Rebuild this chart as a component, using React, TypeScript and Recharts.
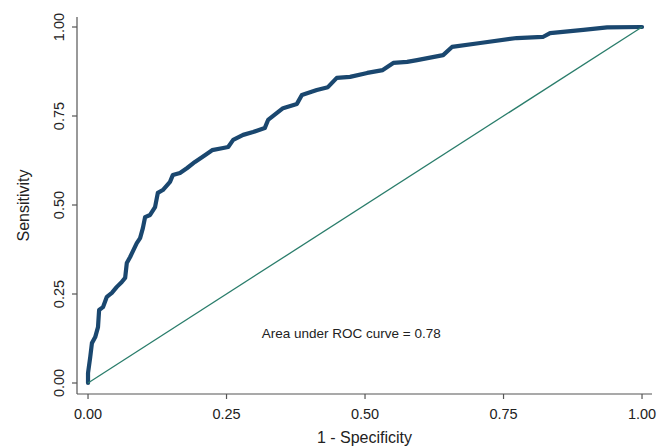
import React from "react";
import { LineChart, Line, XAxis, YAxis, ReferenceDot, Label } from "recharts";

const rocX = [0, 0, 0.004, 0.007, 0.013, 0.018, 0.02, 0.027, 0.034, 0.043, 0.052, 0.061, 0.067, 0.07, 0.076, 0.088, 0.094, 0.099, 0.103, 0.112, 0.121, 0.126, 0.135, 0.148, 0.153, 0.166, 0.179, 0.193, 0.211, 0.224, 0.244, 0.253, 0.262, 0.28, 0.298, 0.319, 0.325, 0.352, 0.377, 0.386, 0.413, 0.433, 0.449, 0.473, 0.504, 0.532, 0.551, 0.576, 0.594, 0.641, 0.657, 0.708, 0.774, 0.821, 0.834, 0.894, 0.937, 1.0];
const rocY = [0, 0.028, 0.073, 0.112, 0.129, 0.157, 0.205, 0.213, 0.242, 0.253, 0.27, 0.284, 0.295, 0.337, 0.354, 0.393, 0.407, 0.435, 0.466, 0.472, 0.494, 0.534, 0.542, 0.565, 0.584, 0.59, 0.604, 0.621, 0.64, 0.654, 0.66, 0.663, 0.683, 0.697, 0.705, 0.716, 0.739, 0.772, 0.784, 0.809, 0.823, 0.831, 0.857, 0.86, 0.871, 0.879, 0.899, 0.902, 0.907, 0.921, 0.944, 0.955, 0.969, 0.972, 0.983, 0.992, 0.999, 1.0];
const refX = [0, 1];
const refY = [0, 1];
const ticks = [0, 0.25, 0.5, 0.75, 1];
const xTitle = "1 - Specificity";
const yTitle = "Sensitivity";
const aucText = "Area under ROC curve = 0.78";
const aucPos = { x: 0.475, y: 0.14 };

const rocData = rocX.map((x, i) => ({ x, y: rocY[i] }));
const refData = refX.map((x, i) => ({ x, y: refY[i] }));

const FONT = "'Liberation Sans', Arial, sans-serif";
const NAVY = "#1a476f";
const TEAL = "#2a7d6b";
const AXIS = "#555";

const YTick = (props: any) => {
  const { y, payload } = props;
  const cx = 59;
  return (
    <text
      x={cx}
      y={y}
      transform={`rotate(-90, ${cx}, ${y})`}
      textAnchor="middle"
      dominantBaseline="central"
      fontSize={14.5}
      fontFamily={FONT}
      fill="#222"
    >
      {Number(payload.value).toFixed(2)}
    </text>
  );
};

const XTick = (props: any) => {
  const { x, payload } = props;
  return (
    <text
      x={x}
      y={414}
      textAnchor="middle"
      dominantBaseline="central"
      fontSize={14.5}
      fontFamily={FONT}
      fill="#222"
    >
      {Number(payload.value).toFixed(2)}
    </text>
  );
};

const YTitle = (props: any) => {
  const vb = props.viewBox || {};
  const cy = (vb.y ?? 17) + (vb.height ?? 377) / 2;
  const cx = 23;
  return (
    <text
      x={cx}
      y={cy}
      transform={`rotate(-90, ${cx}, ${cy})`}
      textAnchor="middle"
      dominantBaseline="central"
      fontSize={16}
      fontFamily={FONT}
      fill="#222"
    >
      {yTitle}
    </text>
  );
};

export default function App() {
  return (
    <div style={{ position: "absolute", left: 0, top: 0, width: 671, height: 448, background: "#fff" }}>
      <LineChart
        width={671}
        height={448}
        margin={{ top: 17, right: 19, bottom: 0, left: 0 }}
        style={{ fontFamily: FONT }}
      >
        <XAxis
          type="number"
          dataKey="x"
          domain={[-0.0199, 1.018]}
          ticks={ticks}
          allowDataOverflow
          height={54}
          tick={<XTick />}
          tickSize={5}
          axisLine={{ stroke: AXIS, strokeWidth: 1.2 }}
          tickLine={{ stroke: AXIS, strokeWidth: 1.2 }}
        >
          <Label
            value={xTitle}
            position="insideBottom"
            offset={5}
            style={{ fontSize: 16, fontFamily: FONT, fill: "#222" }}
          />
        </XAxis>
        <YAxis
          type="number"
          dataKey="y"
          domain={[-0.0309, 1.0281]}
          ticks={ticks}
          allowDataOverflow
          width={77}
          tick={<YTick />}
          tickSize={5}
          axisLine={{ stroke: AXIS, strokeWidth: 1.2 }}
          tickLine={{ stroke: AXIS, strokeWidth: 1.2 }}
        >
          <Label content={<YTitle />} />
        </YAxis>
        <Line
          data={rocData}
          dataKey="y"
          type="linear"
          stroke={NAVY}
          strokeWidth={4.2}
          strokeLinejoin="round"
          strokeLinecap="round"
          dot={false}
          activeDot={false}
          isAnimationActive={false}
        />
        <Line
          data={refData}
          dataKey="y"
          type="linear"
          stroke={TEAL}
          strokeWidth={1.3}
          dot={false}
          activeDot={false}
          isAnimationActive={false}
        />
        <ReferenceDot x={aucPos.x} y={aucPos.y} r={0} fill="none" stroke="none">
          <Label
            value={aucText}
            position="center"
            style={{ fontSize: 13.5, fontFamily: FONT, fill: "#222" }}
          />
        </ReferenceDot>
      </LineChart>
    </div>
  );
}
